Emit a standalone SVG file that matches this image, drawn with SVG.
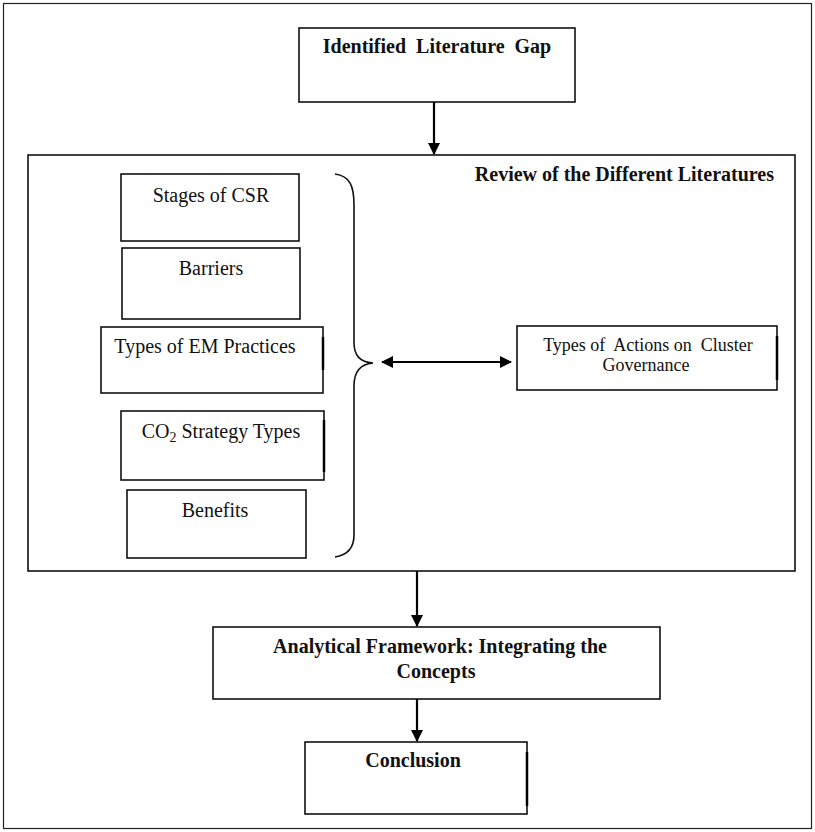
<svg xmlns="http://www.w3.org/2000/svg" width="815" height="832" viewBox="0 0 815 832">
<defs>
<style>
.box{fill:#fff;stroke:#111;stroke-width:1.6}
.frame{fill:none;stroke:#222;stroke-width:1.2}
.t{font-family:"Liberation Serif","Times New Roman",serif;font-size:20px;fill:#111;text-anchor:middle}
.b{font-weight:bold}
.edge{stroke:#000;stroke-width:2.2;fill:none}
.brace{stroke:#111;stroke-width:1.6;fill:none}
.thick{stroke:#000;stroke-width:2.5}
</style>
<marker id="ah" viewBox="0 0 12 12" refX="11" refY="6" markerWidth="12" markerHeight="12" markerUnits="userSpaceOnUse" orient="auto-start-reverse">
<path d="M0,0 L12,6 L0,12 Z" fill="#000"/>
</marker>
</defs>
<rect x="0" y="0" width="815" height="832" fill="#fff"/>
<rect id="outer" class="frame" x="3.5" y="3.5" width="808" height="825"/>

<g id="gap">
<rect class="box" x="299" y="28" width="276" height="74"/>
<text class="t b" x="437" y="53" xml:space="preserve">Identified  Literature  Gap</text>
</g>

<g id="review">
<rect class="box" x="28" y="155" width="767" height="416" style="fill:none"/>
<text class="t b" x="774" y="181" style="text-anchor:end">Review of the Different Literatures</text>
</g>

<g id="stages">
<rect class="box" x="121" y="174" width="178" height="67"/>
<text class="t" x="211" y="202">Stages of CSR</text>
</g>

<g id="barriers">
<rect class="box" x="122" y="248" width="178" height="71"/>
<text class="t" x="211" y="275">Barriers</text>
</g>

<g id="em">
<rect class="box" x="101" y="327" width="222" height="66"/>
<line class="thick" x1="323" y1="337" x2="323" y2="370"/>
<text class="t" x="205" y="353">Types of EM Practices</text>
</g>

<g id="co2">
<rect class="box" x="121" y="411" width="203" height="69"/>
<line class="thick" x1="324" y1="420" x2="324" y2="472"/>
<text class="t" x="221" y="438">CO<tspan font-size="14" dy="4">2</tspan><tspan dy="-4"> Strategy Types</tspan></text>
</g>

<g id="benefits">
<rect class="box" x="127" y="490" width="179" height="68"/>
<text class="t" x="215" y="517">Benefits</text>
</g>

<g id="actions">
<rect class="box" x="517" y="326" width="260" height="64"/>
<line class="thick" x1="777" y1="336" x2="777" y2="380"/>
<text class="t" x="648" y="351" style="font-size:18px" xml:space="preserve">Types of  Actions on  Cluster</text>
<text class="t" x="646" y="371" style="font-size:18px">Governance</text>
</g>

<g id="analytical">
<rect class="box" x="213" y="627" width="447" height="72"/>
<text class="t b" x="440" y="653">Analytical Framework: Integrating the</text>
<text class="t b" x="436" y="678">Concepts</text>
</g>

<g id="conclusion">
<rect class="box" x="305" y="742" width="222" height="72"/>
<line class="thick" x1="527" y1="752" x2="527" y2="806"/>
<text class="t b" x="413" y="767">Conclusion</text>
</g>

<g id="connectors">
<path class="brace" d="M335,174 C350,176 354,186 354,205 L354,342 C354,356 360,362 373,363 C360,364 354,372 354,386 L354,535 C354,548 348,555 335,557"/>
<line class="edge" x1="434" y1="102" x2="434" y2="154" marker-end="url(#ah)"/>
<line class="edge" x1="382" y1="362" x2="511" y2="362" marker-start="url(#ah)" marker-end="url(#ah)"/>
<line class="edge" x1="417" y1="571" x2="417" y2="626" marker-end="url(#ah)"/>
<line class="edge" x1="417" y1="699" x2="417" y2="741" marker-end="url(#ah)"/>
</g>
</svg>
